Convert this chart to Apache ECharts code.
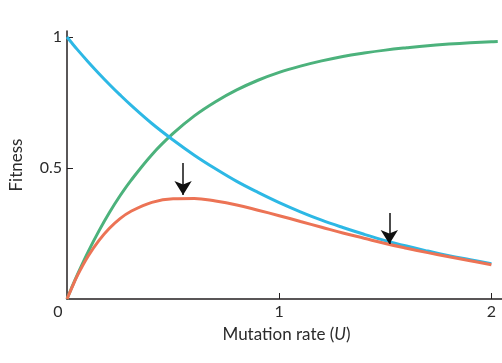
<!DOCTYPE html>
<html>
<head>
<meta charset="utf-8">
<script src="https://cdn.jsdelivr.net/npm/echarts@6/dist/echarts.min.js"></script>
<style>html,body{margin:0;padding:0;background:#fff;}#c{width:502px;height:363px;}</style>
</head>
<body>
<div id="c"></div>
<script>
// Values
const uValues = [0, 0.02, 0.05, 0.1, 0.15, 0.2, 0.25, 0.3, 0.4, 0.5, 0.6, 0.7, 0.8, 0.9, 1.0, 1.1, 1.2, 1.3, 1.4, 1.5, 1.6, 1.7, 1.8, 1.9, 2.0];
const blueFitness = [1.0, 0.980, 0.951, 0.905, 0.861, 0.819, 0.779, 0.741, 0.670, 0.607, 0.549, 0.497, 0.449, 0.407, 0.368, 0.333, 0.301, 0.273, 0.247, 0.223, 0.202, 0.183, 0.165, 0.150, 0.135];
const greenU = [0, 0.02, 0.05, 0.1, 0.15, 0.2, 0.25, 0.3, 0.4, 0.5, 0.6, 0.7, 0.8, 0.9, 1.0, 1.1, 1.2, 1.3, 1.4, 1.5, 1.6, 1.7, 1.8, 1.9, 2.0, 2.03];
const greenFitness = [0, 0.039, 0.095, 0.181, 0.259, 0.330, 0.394, 0.451, 0.551, 0.632, 0.699, 0.753, 0.798, 0.835, 0.865, 0.889, 0.909, 0.926, 0.939, 0.950, 0.959, 0.967, 0.973, 0.978, 0.982, 0.983];
const redFitness = [0, 0.038, 0.091, 0.164, 0.223, 0.270, 0.307, 0.334, 0.369, 0.383, 0.384, 0.374, 0.359, 0.339, 0.318, 0.296, 0.274, 0.252, 0.232, 0.212, 0.194, 0.177, 0.161, 0.146, 0.131];
const arrowX = [0.547, 1.519];
const arrowTop = [0.519, 0.328];
const arrowTip = [0.397, 0.210];
const xTickLabels = [0, 1, 2];
const yTickLabels = [0.5, 1];

const zip = (xs, ys) => ys.map((y, i) => [xs[i], y]);
const font = 'Lato, "Open Sans", sans-serif';
const axisColor = '#231f20';
const textColor = '#2b2b2b';

const chart = echarts.init(document.getElementById('c'), null, {renderer: 'canvas'});
chart.setOption({
  animation: false,
  grid: {left: 67, right: 0, top: 31, bottom: 64, containLabel: false, outerBoundsMode: 'none'},
  xAxis: {
    type: 'value', min: 0, max: 2.05,
    name: 'Mutation rate ({i|U})', nameLocation: 'middle', nameGap: 27,
    nameTextStyle: {fontFamily: font, fontSize: 17, color: textColor, padding: [0, 0, 0, 4],
      rich: {i: {fontFamily: font, fontSize: 17, fontStyle: 'italic', color: textColor}}},
    axisLine: {show: true, onZero: false, lineStyle: {color: axisColor, width: 1.5}},
    axisTick: {show: true, inside: true, length: 6, customValues: [1, 2], lineStyle: {color: axisColor, width: 1}},
    axisLabel: {customValues: xTickLabels, fontFamily: font, fontSize: 16, color: textColor, margin: 5,
      formatter: v => v === 0 ? '{z|0}' : String(v),
      rich: {z: {fontFamily: font, fontSize: 16, color: textColor, padding: [0, 18, 0, 0]}}},
    splitLine: {show: false}
  },
  yAxis: {
    type: 'value', min: 0, max: 1.023,
    name: 'Fitness', nameLocation: 'middle', nameGap: 42, nameRotate: 90,
    nameTextStyle: {fontFamily: font, fontSize: 17, color: textColor},
    axisLine: {show: true, onZero: false, lineStyle: {color: axisColor, width: 1.5}},
    axisTick: {show: true, inside: true, length: 6, customValues: yTickLabels, lineStyle: {color: axisColor, width: 1}},
    axisLabel: {customValues: yTickLabels, fontFamily: font, fontSize: 16, color: textColor, margin: 5},
    splitLine: {show: false}
  },
  series: [
    {type: 'line', data: zip(greenU, greenFitness), smooth: 0.4, showSymbol: false, lineStyle: {color: '#4cb27c', width: 3}, z: 2},
    {type: 'line', data: zip(uValues, blueFitness), smooth: 0.4, showSymbol: false, lineStyle: {color: '#2db8e5', width: 3}, z: 3},
    {type: 'line', data: zip(uValues, redFitness), smooth: 0.4, showSymbol: false, lineStyle: {color: '#ec7355', width: 3}, z: 4,
      markLine: {
        silent: true, animation: false,
        symbol: ['none', 'arrow'], symbolSize: [13, 14],
        label: {show: false},
        lineStyle: {color: '#111', width: 1.5, type: 'solid'},
        data: arrowX.map((x, i) => [{coord: [x, arrowTop[i]]}, {coord: [x, arrowTip[i]]}])
      }}
  ]
});
</script>
</body>
</html>
